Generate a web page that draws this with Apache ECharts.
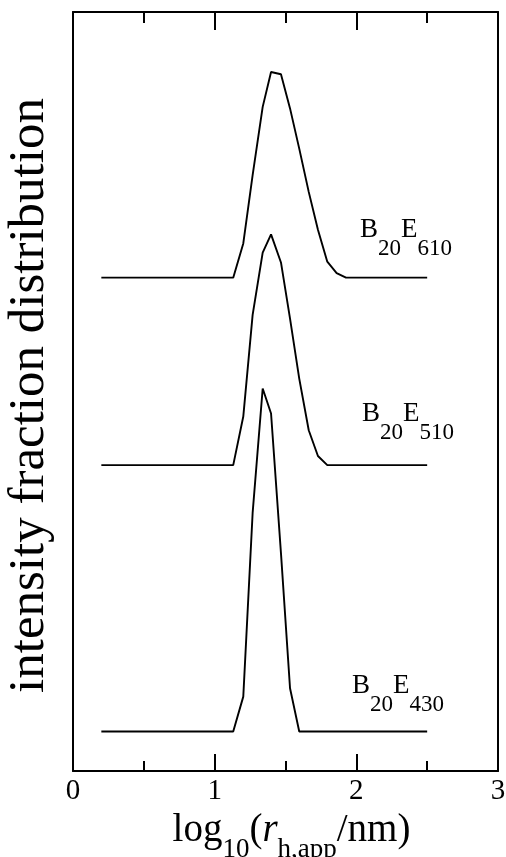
<!DOCTYPE html>
<html>
<head>
<meta charset="utf-8">
<script src="https://cdn.jsdelivr.net/npm/echarts@6/dist/echarts.min.js"></script>
<style>
  html, body { margin: 0; padding: 0; background: #fff; }
  #chart { width: 506px; height: 857px; }
</style>
</head>
<body>
<div id="chart"></div>
<script>
// log10 of apparent hydrodynamic radius (bin centres)
var logR = [0.2, 1.131, 1.202, 1.268, 1.339, 1.398, 1.468, 1.532, 1.597, 1.664, 1.729, 1.795, 1.861, 1.927, 2.5];

// intensity fraction per bin for each sample
var b20e610 = [0, 0, 0.045, 0.135, 0.225, 0.271, 0.268, 0.223, 0.170, 0.113, 0.063, 0.021, 0.006, 0, 0];
var b20e510 = [0, 0, 0.064, 0.198, 0.280, 0.304, 0.267, 0.193, 0.114, 0.046, 0.012, 0, 0, 0, 0];
var b20e430 = [0, 0, 0.046, 0.288, 0.452, 0.419, 0.235, 0.057, 0, 0, 0, 0, 0, 0, 0];

// vertical offsets used to stack the distributions
var offsets = { b20e610: 0.65, b20e510: 0.403, b20e430: 0.052 };

// x tick labels
var xTicks = ['0', '1', '2', '3'];

var FONT = '"Liberation Serif", "DejaVu Serif", serif';
var BLACK = '#000';

function stacked(vals, off) {
  return logR.map(function (x, i) { return [x, off + vals[i]]; });
}

var chart = echarts.init(document.getElementById('chart'), null, { renderer: 'canvas' });

var lineCommon = {
  type: 'line',
  showSymbol: false,
  symbol: 'none',
  silent: true,
  lineStyle: { color: BLACK, width: 1.9 },
  z: 3
};

var axisLineStyle = { color: BLACK, width: 2 };

var labelRich = {
  m: { fontFamily: FONT, fontSize: 27, color: BLACK },
  s: { fontFamily: FONT, fontSize: 23, color: BLACK, padding: [38, 0, 0, 0] }
};

function sampleLabel(sub1, sub2, x, y) {
  return {
    type: 'text',
    x: x,
    y: y,
    silent: true,
    style: {
      text: '{m|B}{s|' + sub1 + '}{m|E}{s|' + sub2 + '}',
      rich: labelRich,
      align: 'left',
      verticalAlign: 'middle'
    }
  };
}

var option = {
  animation: false,
  backgroundColor: '#fff',
  grid: { left: 73, right: 8, top: 12, bottom: 86, outerBoundsMode: 'none', containLabel: false },
  xAxis: [
    {
      type: 'value',
      position: 'bottom',
      min: 0, max: 3, interval: 1,
      axisLine: { show: true, onZero: false, lineStyle: axisLineStyle },
      axisTick: { show: true, inside: true, length: 17, lineStyle: { color: BLACK, width: 2 } },
      minorTick: { show: true, splitNumber: 2, length: 10, lineStyle: { color: BLACK, width: 2 } },
      splitLine: { show: false },
      axisLabel: {
        fontFamily: FONT, fontSize: 29, color: BLACK, margin: 6,
        formatter: function (v) { return xTicks[Math.round(v)]; }
      },
      name: '{p|log}{s|10}{m|(}{i|r}{s|h,app}{m|/nm)}',
      nameLocation: 'middle',
      nameGap: 18,
      nameTextStyle: {
        rich: {
          p: { fontFamily: FONT, fontSize: 39, color: BLACK, padding: [0, 0, 0, 12] },
          m: { fontFamily: FONT, fontSize: 39, color: BLACK },
          i: { fontFamily: FONT, fontSize: 39, fontStyle: 'italic', color: BLACK },
          s: { fontFamily: FONT, fontSize: 27, color: BLACK, padding: [40, 0, 0, 0] }
        }
      }
    },
    {
      type: 'value',
      position: 'top',
      min: 0, max: 3, interval: 1,
      axisLine: { show: true, onZero: false, lineStyle: axisLineStyle },
      axisTick: { show: true, inside: true, length: 18, lineStyle: { color: BLACK, width: 2 } },
      minorTick: { show: true, splitNumber: 2, length: 11, lineStyle: { color: BLACK, width: 2 } },
      splitLine: { show: false },
      axisLabel: { show: false }
    }
  ],
  yAxis: [
    {
      type: 'value',
      position: 'left',
      min: 0, max: 1,
      axisLine: { show: true, onZero: false, lineStyle: axisLineStyle },
      axisTick: { show: false },
      axisLabel: { show: false },
      splitLine: { show: false },
      name: 'intensity fraction distribution',
      nameLocation: 'middle',
      nameRotate: 90,
      nameGap: 18,
      nameTextStyle: { fontFamily: FONT, fontSize: 51, color: BLACK, padding: [0, 8, 0, 0] }
    },
    {
      type: 'value',
      position: 'right',
      min: 0, max: 1,
      axisLine: { show: true, onZero: false, lineStyle: axisLineStyle },
      axisTick: { show: false },
      axisLabel: { show: false },
      splitLine: { show: false }
    }
  ],
  series: [
    Object.assign({ name: 'B20E610', data: stacked(b20e610, offsets.b20e610) }, lineCommon),
    Object.assign({ name: 'B20E510', data: stacked(b20e510, offsets.b20e510) }, lineCommon),
    Object.assign({ name: 'B20E430', data: stacked(b20e430, offsets.b20e430) }, lineCommon)
  ],
  graphic: [
    sampleLabel('20', '610', 360, 230),
    sampleLabel('20', '510', 362, 414),
    sampleLabel('20', '430', 352, 686)
  ]
};

chart.setOption(option);
</script>
</body>
</html>
